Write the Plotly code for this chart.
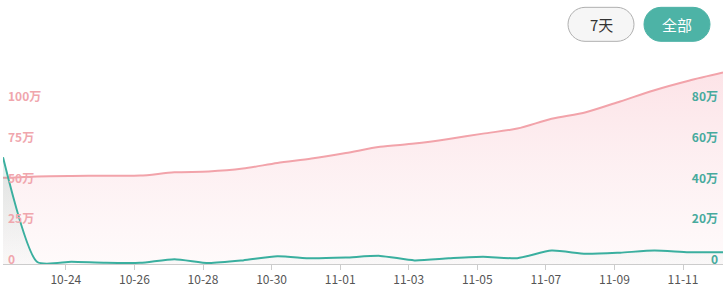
import plotly.graph_objects as go

# ---- data ----
dates = [
    "2023-10-22 04:00", "2023-10-23 04:00", "2023-10-24 04:00", "2023-10-25 04:00",
    "2023-10-26 04:00", "2023-10-27 04:00", "2023-10-28 04:00", "2023-10-29 04:00",
    "2023-10-30 04:00", "2023-10-31 04:00", "2023-11-01 04:00", "2023-11-02 04:00",
    "2023-11-03 04:00", "2023-11-04 04:00", "2023-11-05 04:00", "2023-11-06 04:00",
    "2023-11-07 04:00", "2023-11-08 04:00", "2023-11-09 04:00", "2023-11-10 04:00",
    "2023-11-11 04:00", "2023-11-12 04:00",
]
# cumulative (left axis, 万)
pink_wan = [52.8, 53.7, 54.0, 54.1, 54.2, 56.2, 56.7, 58.5, 61.9, 64.6, 68.0,
            71.8, 73.8, 76.6, 79.9, 83.0, 89.0, 93.0, 99.6, 106.5, 112.3, 117.3]
# daily (right axis, 万)
teal_wan = [52.4, 1.0, 1.1, 0.6, 0.6, 2.4, 0.5, 1.8, 3.8, 2.8, 3.2,
            4.0, 1.8, 2.8, 3.6, 2.9, 6.6, 5.0, 5.6, 6.6, 5.8, 5.8]

left_ticks = [0, 25, 50, 75, 100]
left_labels = ["0", "25万", "50万", "75万", "100万"]
right_ticks = [0, 20, 40, 60, 80]
right_labels = ["0", "20万", "40万", "60万", "80万"]
buttons = ["7天", "全部"]

PINK = "#f2a3aa"
TEAL = "#3aaf9f"
FONT = "Noto Sans CJK SC"

W, H = 726, 290
ML, MR, MT, MB = 3, 3, 60, 18
PW, PH = W - ML - MR, H - MT - MB
BASE = 266          # pixel row of the value 0
PAD = H - MB - BASE  # pixels of plot area below zero
LEFT_MAX, RIGHT_MAX = 125, 100
left_lo = -PAD * LEFT_MAX / (BASE - MT)
right_lo = -PAD * RIGHT_MAX / (BASE - MT)


def px(x):
    return (x - ML) / PW


def py(y):
    return (H - MB - y) / PH


fig = go.Figure()
fig.add_trace(go.Scatter(
    x=dates, y=pink_wan, mode="lines", yaxis="y",
    line=dict(color=PINK, width=2, shape="spline", smoothing=0.8),
    fill="tozeroy",
    fillgradient=dict(type="vertical", start=0, stop=max(pink_wan),
                      colorscale=[[0, "rgba(250,215,220,0.12)"], [1, "rgba(250,200,208,0.5)"]]),
    hoverinfo="skip", showlegend=False,
))
fig.add_trace(go.Scatter(
    x=dates, y=teal_wan, mode="lines", yaxis="y2",
    line=dict(color=TEAL, width=2, shape="spline", smoothing=0.6),
    fill="tozeroy",
    fillgradient=dict(type="vertical", start=0, stop=max(teal_wan),
                      colorscale=[[0, "rgba(60,150,130,0.02)"], [1, "rgba(60,150,130,0.16)"]]),
    hoverinfo="skip", showlegend=False,
))

# pill buttons
def pill(w, h):
    r = h / 2
    k = 0.5523 * r
    x0, x1 = -w / 2 + r, w / 2 - r
    return (f"M {x0},{-r} L {x1},{-r} "
            f"C {x1 + k},{-r} {x1 + r},{-k} {x1 + r},0 "
            f"C {x1 + r},{k} {x1 + k},{r} {x1},{r} "
            f"L {x0},{r} "
            f"C {x0 - k},{r} {x0 - r},{k} {x0 - r},0 "
            f"C {x0 - r},{-k} {x0 - k},{-r} {x0},{-r} Z")

btn_centers = [(601, 24), (677, 24)]
btn_fill = ["#f6f6f6", "#4db3a6"]
btn_line = ["#b0b0b0", "#4db3a6"]
btn_text = ["#333333", "#ffffff"]
shapes, annotations = [], []
for (cx, cy), lab, fc, lc, tc in zip(btn_centers, buttons, btn_fill, btn_line, btn_text):
    shapes.append(dict(type="path", xref="paper", yref="paper",
                       xsizemode="pixel", ysizemode="pixel",
                       xanchor=px(cx), yanchor=py(cy), path=pill(66, 34),
                       fillcolor=fc, line=dict(color=lc, width=1), layer="above"))
    annotations.append(dict(x=px(cx), y=py(cy), xref="paper", yref="paper",
                            text=lab, showarrow=False,
                            font=dict(family=FONT, size=15, color=tc),
                            xanchor="center", yanchor="middle"))

fig.update_layout(
    width=W, height=H,
    margin=dict(l=ML, r=MR, t=MT, b=MB),
    paper_bgcolor="white", plot_bgcolor="white",
    shapes=shapes, annotations=annotations,
    xaxis=dict(
        type="date",
        range=[dates[0], dates[-1]],
        anchor="free", position=PAD / PH,
        tick0="2023-10-24", dtick=2 * 86400000, tickformat="%m-%d",
        showgrid=False, zeroline=False,
        showline=True, linecolor="#cccccc", linewidth=1,
        ticks="outside", ticklen=5, tickcolor="#cccccc",
        tickfont=dict(family=FONT, size=12, color="#555555"),
    ),
    yaxis=dict(
        range=[left_lo, LEFT_MAX], tickvals=left_ticks, ticktext=left_labels,
        showgrid=False, zeroline=False, showline=False,
        ticklabelposition="inside", ticklabelstandoff=2, ticklabelshift=-4,
        tickfont=dict(family=FONT, size=12, color="#f0a6ad", weight="bold"),
    ),
    yaxis2=dict(
        range=[right_lo, RIGHT_MAX], tickvals=right_ticks, ticktext=right_labels,
        overlaying="y", side="right",
        showgrid=False, zeroline=False, showline=False,
        ticklabelposition="inside", ticklabelstandoff=2, ticklabelshift=-4,
        tickfont=dict(family=FONT, size=12, color="#47aa9d", weight="bold"),
    ),
)

fig.write_html("out.html")
